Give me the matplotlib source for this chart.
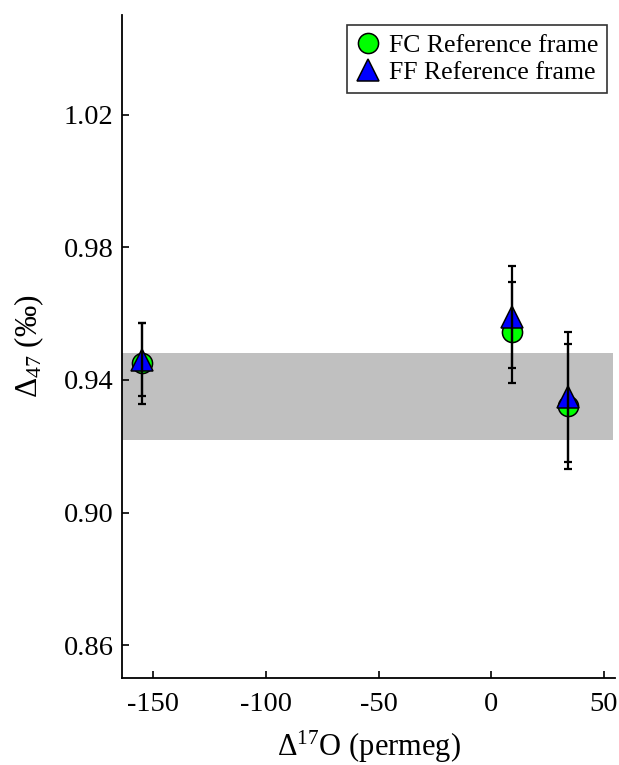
import matplotlib
matplotlib.use("Agg")
import matplotlib.pyplot as plt
from matplotlib.lines import Line2D
from matplotlib.ticker import FormatStrFormatter

# values
d17o = [-155, 9, 34]
fc_d47 = [0.945, 0.9544, 0.932]
fc_err = [0.0122, 0.0152, 0.0189]
ff_d47 = [0.946, 0.959, 0.9348]
ff_err = [0.011, 0.0153, 0.0196]
band_y = (0.922, 0.948)
band_x = (-164, 54)
series_labels = ["FC Reference frame", "FF Reference frame"]
y_ticks = [0.86, 0.90, 0.94, 0.98, 1.02]
x_ticks = [-150, -100, -50, 0, 50]

plt.rcParams["font.family"] = ["Liberation Serif", "DejaVu Serif"]
plt.rcParams["mathtext.fontset"] = "custom"
plt.rcParams["mathtext.rm"] = "Liberation Serif"
plt.rcParams["mathtext.it"] = "Liberation Serif:italic"
plt.rcParams["axes.unicode_minus"] = False

fig = plt.figure(figsize=(6.19, 7.65), dpi=100)
ax = fig.add_axes([0.197, 0.1133, 0.797, 0.867])

ax.fill_between(band_x, band_y[0], band_y[1], color="#c0c0c0", lw=0, zorder=1)

ax.plot(d17o, fc_d47, "o", ms=14.5, mfc="#00ff00", mec="black", mew=1.1, zorder=3)
ax.plot(d17o, ff_d47, "^", ms=15.5, mfc="#0000ff", mec="black", mew=1.1, zorder=4)
ax.errorbar(d17o, fc_d47, yerr=fc_err, fmt="none", ecolor="black", elinewidth=1.6,
            capsize=3.0, capthick=1.6, zorder=5)
ax.errorbar(d17o, ff_d47, yerr=ff_err, fmt="none", ecolor="black", elinewidth=1.6,
            capsize=3.0, capthick=1.6, zorder=5)

ax.set_xlim(-164, 55)
ax.set_ylim(0.85, 1.05)
ax.set_xticks(x_ticks)
ax.set_yticks(y_ticks)
ax.yaxis.set_major_formatter(FormatStrFormatter("%.2f"))
ax.tick_params(direction="in", length=5, width=1.2, labelsize=20.5)
ax.tick_params(axis="x", pad=10)
ax.tick_params(axis="y", pad=6)
for side in ("top", "right"):
    ax.spines[side].set_visible(False)
for side in ("left", "bottom"):
    ax.spines[side].set_linewidth(1.3)

ax.set_xlabel(r"$\Delta^{17}$O (permeg)", fontsize=22, labelpad=8)
ax.set_ylabel(r"$\Delta_{47}$ (‰)", fontsize=22.5, labelpad=13)

handles = [
    Line2D([], [], ls="none", marker="o", ms=14.5, mfc="#00ff00", mec="black", mew=1.1),
    Line2D([], [], ls="none", marker="^", ms=15.5, mfc="#0000ff", mec="black", mew=1.1),
]
leg = ax.legend(handles, series_labels, loc="upper right", bbox_to_anchor=(0.984, 0.985),
                borderaxespad=0, fontsize=18.5, frameon=True, fancybox=False,
                handlelength=1.0, handletextpad=0.3, borderpad=0.35, labelspacing=0.15)
leg.get_frame().set_edgecolor("black")
leg.get_frame().set_linewidth(1.2)

fig.savefig("out.png", dpi=100)
